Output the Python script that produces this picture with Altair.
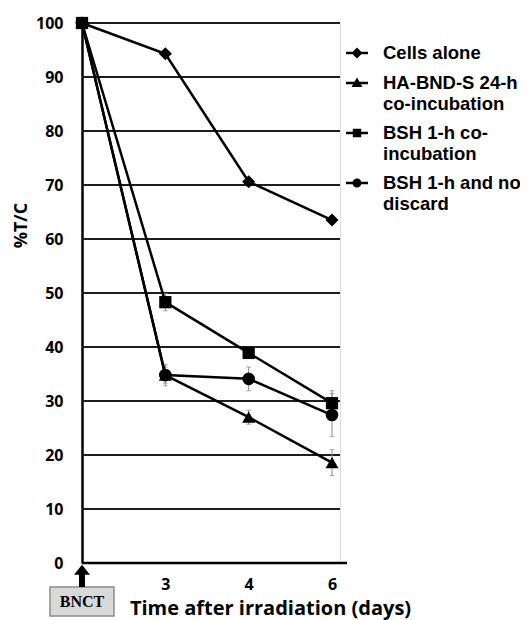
import altair as alt
import pandas as pd

days = ["0", "3", "4", "6"]
series = ["Cells alone", "HA-BND-S 24-h|co-incubation", "BSH 1-h co-|incubation", "BSH 1-h and no|discard"]
cells = [100, 94.3, 70.6, 63.5]
ha_bnd = [100, 34.8, 27.0, 18.6]
bsh = [100, 48.3, 38.9, 29.6]
bsh_nd = [100, 34.8, 34.1, 27.4]
cells_err = [0, 0, 0, 0]
ha_bnd_err = [0, 1.5, 1.3, 2.4]
bsh_err = [0, 1.6, 1.0, 2.3]
bsh_nd_err = [0, 2.0, 2.2, 4.0]
y_ticks = [10, 20, 30, 40, 50, 60, 70, 80, 90, 100]
shapes = ["diamond", "triangle-up", "square", "circle"]
sizes = [170, 170, 150, 160]
legend_shapes = [
    "M-1.1,-0.12H1.1V0.12H-1.1ZM0,-0.55L0.55,0L0,0.55L-0.55,0Z",
    "M-1.1,-0.12H1.1V0.12H-1.1ZM0,-0.55L0.55,0.4L-0.55,0.4Z",
    "M-1.1,-0.12H1.1V0.12H-1.1ZM-0.42,-0.42H0.42V0.42H-0.42Z",
    "M-1.1,-0.12H1.1V0.12H-1.1ZM-0.45,0A0.45,0.45 0 1,1 0.45,0A0.45,0.45 0 1,1 -0.45,0Z",
]

rows = []
for s, vals, errs in zip(series, [cells, ha_bnd, bsh, bsh_nd], [cells_err, ha_bnd_err, bsh_err, bsh_nd_err]):
    for d, v, e in zip(days, vals, errs):
        rows.append({"day": d, "series": s, "value": v, "lo": v - e, "hi": v + e, "err": e})
df = pd.DataFrame(rows)
err_df = df[df["err"] > 0]

FONT = "Liberation Sans"
AXFONT = "Open Sans"

x_enc = alt.X("day:O", sort=days,
              scale=alt.Scale(type="point", domain=days, padding=0.048, align=0),
              axis=alt.Axis(title="Time after irradiation (days)", labelExpr="datum.value == '0' ? '' : datum.label",
                            labelAngle=0, ticks=False, domain=False, labelPadding=13,
                            labelFont=AXFONT, labelFontSize=16, labelFontWeight="bold", labelColor="black",
                            titleFont=AXFONT, titleFontSize=20, titleFontWeight="bold", titleColor="black",
                            titleX=188, titleY=45, titleBaseline="middle", titleAlign="center", grid=False))
y_scale = alt.Scale(domain=[0, 100], nice=False, zero=True)
y_axis = alt.Axis(title="%T/C", values=[0] + y_ticks, ticks=False, grid=False, domainWidth=2.5, domainColor="black",
                  labelPadding=19, labelFont=AXFONT, labelFontSize=16, labelFontWeight="bold", labelColor="black",
                  titleFont=AXFONT, titleFontSize=18, titleFontWeight="bold", titleColor="black",
                  titleAngle=270, titleX=-61, titleY=202, titleBaseline="middle", titleAlign="center")

grid = alt.Chart(pd.DataFrame({"v": y_ticks})).mark_rule(color="#1e1e1e", strokeWidth=1.8).encode(
    y=alt.Y("v:Q", scale=y_scale, axis=y_axis), x=alt.value(0), x2=alt.value(258))
base_line = alt.Chart(pd.DataFrame({"v": [0]})).mark_rule(color="black", strokeWidth=2.5).encode(
    y=alt.Y("v:Q", scale=y_scale), x=alt.value(0), x2=alt.value(265))

err_rule = alt.Chart(err_df).mark_rule(color="#8a8a8a", strokeWidth=1).encode(
    x=x_enc, y=alt.Y("lo:Q", scale=y_scale), y2="hi:Q")
err_lo = alt.Chart(err_df).mark_tick(color="#8a8a8a", thickness=1, size=5).encode(
    x=x_enc, y=alt.Y("lo:Q", scale=y_scale))
err_hi = alt.Chart(err_df).mark_tick(color="#8a8a8a", thickness=1, size=5).encode(
    x=x_enc, y=alt.Y("hi:Q", scale=y_scale))

lines = alt.Chart(df).mark_line(color="black", strokeWidth=2.5).encode(
    x=x_enc, y=alt.Y("value:Q", scale=y_scale), detail="series:N")

point_layers = []
for s, shp, sz in zip(series, shapes, sizes):
    point_layers.append(
        alt.Chart(df).transform_filter(alt.datum.series == s).mark_point(
            filled=True, color="black", opacity=1, size=sz, shape=shp).encode(
            x=x_enc, y=alt.Y("value:Q", scale=y_scale)))

legend = alt.Legend(orient="none", legendX=265, legendY=20, title=None, padding=0,
                    labelExpr="split(datum.label, '|')", labelFont=FONT, labelFontSize=18.5,
                    labelFontWeight="bold", labelColor="black", labelLimit=0, labelOffset=16,
                    labelBaseline="middle",
                    symbolSize=400, symbolStrokeWidth=0, symbolFillColor="black", symbolOpacity=1,
                    rowPadding=10)

legend_layer = alt.Chart(df).mark_point(filled=True, color="black", opacity=0, size=10).encode(
    x=x_enc, y=alt.Y("value:Q", scale=y_scale),
    shape=alt.Shape("series:N", scale=alt.Scale(domain=series, range=legend_shapes), legend=legend))

one = pd.DataFrame({"a": [0]})
box = alt.Chart(one).mark_rect(fill="#d9d9d9", stroke="#8c8c8c", strokeWidth=1.5).encode(
    x=alt.value(-32), x2=alt.value(32), y=alt.value(564), y2=alt.value(593))
box_text = alt.Chart(one).mark_text(text="BNCT", font="Liberation Serif", fontSize=16, fontWeight="bold",
                                    color="black", align="center", baseline="middle").encode(
    x=alt.value(0), y=alt.value(579))
shaft = alt.Chart(one).mark_rule(color="black", strokeWidth=6).encode(
    x=alt.value(0), y=alt.value(550), y2=alt.value(564))
head = alt.Chart(one).mark_point(shape="M0,-0.65L1,0.6L-1,0.6Z", filled=True, color="black", opacity=1,
                                 size=256).encode(x=alt.value(0), y=alt.value(547))

chart = alt.layer(grid, base_line, err_rule, err_lo, err_hi, lines, *point_layers, legend_layer,
                  box, box_text, shaft, head).properties(
    width=258, height=540,
    padding={"left": 74, "top": 15, "right": 180, "bottom": 75},
    autosize=alt.AutoSizeParams(type="none"),
).configure_view(stroke=None).configure(background="white")

chart.save("out.html", embed_options={"renderer": "svg", "actions": False})
